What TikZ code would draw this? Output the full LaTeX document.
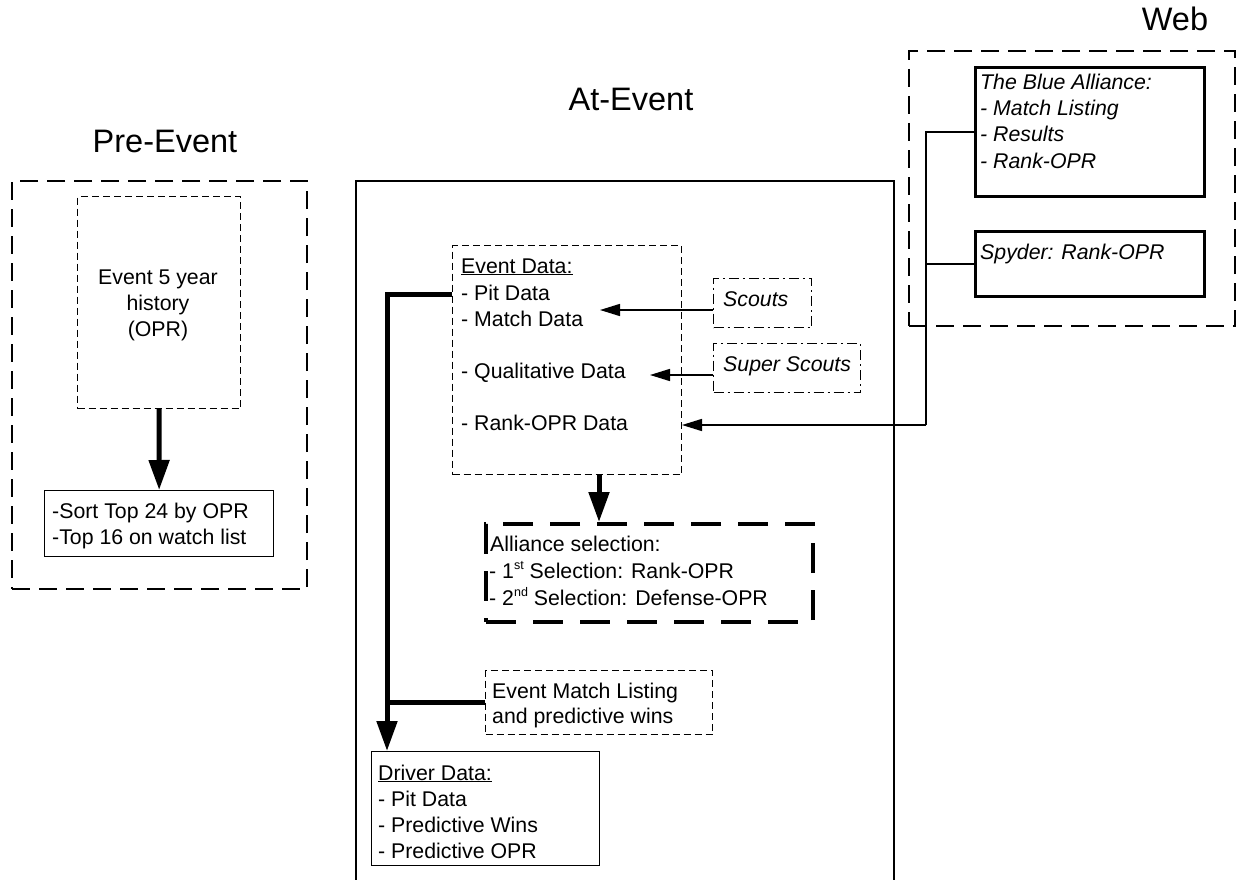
\documentclass[tikz,border=0pt]{standalone}
\usepackage{fontspec}
\setmainfont{Liberation Sans}
\usetikzlibrary{arrows.meta}
\newcommand{\supr}[1]{\raisebox{0.75ex}{\fontsize{12.5}{12.5}\selectfont #1}}
\begin{document}
\begin{tikzpicture}[x=1pt,y=-1pt,
  box/.style={rectangle, inner sep=0pt, anchor=north west},
  solidbox/.style={draw, line width=1.3pt},
  heavybox/.style={draw, line width=3pt},
  thinbox/.style={draw, line width=1pt, dash pattern=on 7pt off 4pt},
  bigdash/.style={draw, line width=2pt, dash pattern=on 18pt off 9pt},
  thickdash/.style={draw, line width=4pt, dash pattern=on 30pt off 17pt},
  dashdotbox/.style={draw, line width=1pt, dash pattern=on 10pt off 4pt on 2pt off 4pt},
  txt/.style={font=\fontsize{21.3}{26}\selectfont, inner sep=0pt, anchor=base west},
  ctxt/.style={font=\fontsize{21.3}{26}\selectfont, inner sep=0pt, anchor=base},
  ttl/.style={font=\fontsize{32.5}{38}\selectfont, inner sep=0pt, anchor=base},
  thickarrow/.style={line width=5pt, -{Triangle[length=30pt,width=20pt]}},
  thickline/.style={line width=5pt},
  thinarrow/.style={line width=1.5pt, -{Triangle[length=20pt,width=12pt]}},
  thinline/.style={line width=1.5pt}
]
\useasboundingbox (0,0) rectangle (1236,880);

% titles
\node[ttl] (tpre) at (165,153) {Pre-Event};
\node[ttl] (tat) at (631,111) {At-Event};
\node[ttl] (tweb) at (1175,31) {Web};

% Pre-Event
\node[box, bigdash, minimum width=295pt, minimum height=408pt] (pre) at (11,180) {};
\node[box, thinbox, minimum width=163pt, minimum height=212pt] (hist) at (77,196) {};
\node[ctxt] (h1) at (158,284) {Event 5 year};
\node[ctxt] (h2) at (158,310) {history};
\node[ctxt] (h3) at (158,336) {(OPR)};
\node[box, solidbox, minimum width=229pt, minimum height=66pt] (sort) at (44,490) {};
\node[txt] (s1) at (52,518) {-Sort Top 24 by OPR};
\node[txt] (s2) at (52,544) {-Top 16 on watch list};
\draw[thickarrow] (hist.south) -- (sort.north);

% At-Event
\node[box, draw, line width=1.5pt, minimum width=538pt, minimum height=740pt] (at) at (355,180) {};
\node[box, thinbox, minimum width=229pt, minimum height=229pt] (ed) at (452,245) {};
\node[txt] (e1) at (461,273) {\underline{Event Data:}};
\node[txt] (e2) at (461,300) {- Pit Data};
\node[txt] (e3) at (461,326) {- Match Data};
\node[txt] (e4) at (461,378) {- Qualitative Data};
\node[txt] (e5) at (461,430) {- Rank-OPR Data};

\node[box, dashdotbox, minimum width=98pt, minimum height=49pt] (sc) at (713,278) {};
\node[txt] (sct) at (723,306) {\itshape Scouts};
\node[box, dashdotbox, minimum width=147pt, minimum height=49pt] (ss) at (713,343) {};
\node[txt] (sst) at (723,371) {\itshape Super Scouts};

\node[box, thickdash, minimum width=327pt, minimum height=98pt] (al) at (484,522) {};
\node[txt] (a1) at (490,551) {Alliance selection:};
\node[txt] (a2) at (489,578) {- 1\supr{st} Selection: Rank-OPR};
\node[txt] (a3) at (489,605) {- 2\supr{nd} Selection: Defense-OPR};

\node[box, thinbox, minimum width=227pt, minimum height=64pt] (em) at (485,670) {};
\node[txt] (m1) at (492,698) {Event Match Listing};
\node[txt] (m2) at (492,723) {and predictive wins};

\node[box, solidbox, minimum width=228pt, minimum height=114pt] (dd) at (371,751) {};
\node[txt] (d1) at (378,780) {\underline{Driver Data:}};
\node[txt] (d2) at (378,806) {- Pit Data};
\node[txt] (d3) at (378,832) {- Predictive Wins};
\node[txt] (d4) at (378,858) {- Predictive OPR};

% Web
\node[box, bigdash, minimum width=326pt, minimum height=275pt] (web) at (908,50) {};
\node[box, heavybox, minimum width=229pt, minimum height=129pt] (tba) at (974,66) {};
\node[txt] (b1) at (980,90) {\itshape The Blue Alliance:};
\node[txt] (b2) at (980,116) {\itshape - Match Listing};
\node[txt] (b3) at (980,142) {\itshape - Results};
\node[txt] (b4) at (980,168) {\itshape - Rank-OPR};
\node[box, heavybox, minimum width=229pt, minimum height=65pt] (sp) at (974,230) {};
\node[txt] (spt) at (980,259) {\itshape Spyder: Rank-OPR};

% connectors
\coordinate (ax) at (599,0);
\draw[thickarrow] (ed.south -| ax) -- (al.north -| ax);
\coordinate (md) at (600,310);
\draw[thinarrow] (sc.west |- md) -- (md);
\coordinate (qd) at (650,375);
\draw[thinarrow] (ss.west |- qd) -- (qd);
\coordinate (bus) at (926,425);
\draw[thinline] (tba.west) -| (bus);
\draw[thinline] (sp.west) -- (sp.west -| bus);
\draw[thinarrow] (bus) -- (ed.east |- bus);
\coordinate (trunk) at (387,294);
\draw[thickarrow] (ed.west |- trunk) -| (dd.north -| trunk);
\draw[thickline] (em.west) -- (em.west -| trunk);
\end{tikzpicture}
\end{document}
